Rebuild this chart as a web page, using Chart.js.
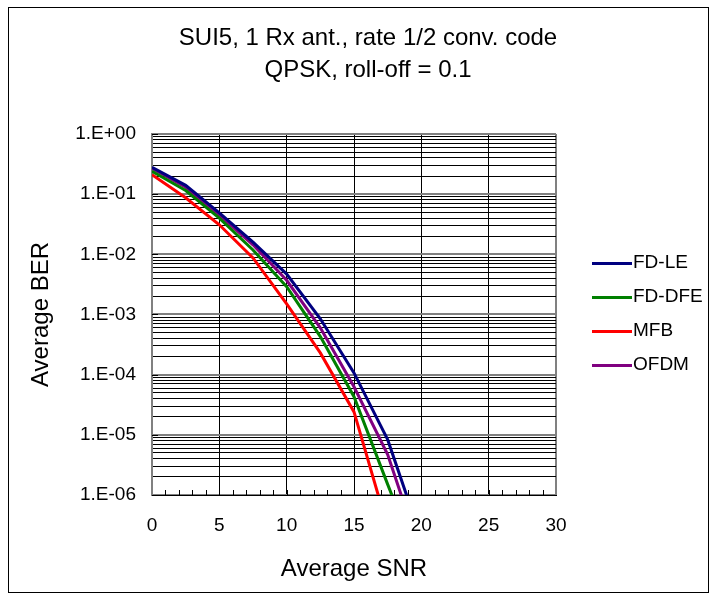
<!DOCTYPE html>
<html>
<head>
<meta charset="utf-8">
<title>SUI5 BER</title>
<script src="https://cdn.jsdelivr.net/npm/chart.js@4/dist/chart.umd.min.js"></script>
<style>
    html, body { margin: 0; padding: 0; background: #fff; }
    #wrap { width: 716px; height: 601px; }
</style>
</head>
<body>
<div id="wrap"><canvas id="ber-chart" width="716" height="601"></canvas></div>
<script>
// values
const snr = [0, 2.5, 5, 7.5, 10, 12.5, 15, 17.5, 20];
const berFdLe = [0.28, 0.14, 0.049, 0.016, 0.0047, 8.5e-4, 1.07e-4, 8.3e-6, 1.9e-7];
const berFdDfe = [0.24, 0.115, 0.040, 0.0118, 0.0029, 4.3e-4, 4.3e-5, 1.5e-6, 5.6e-8];
const berMfb = [0.21, 0.087, 0.031, 0.0087, 0.0015, 2.3e-4, 2.4e-5, 2.9e-7];
const berOfdm = [0.27, 0.13, 0.045, 0.0144, 0.0037, 6.0e-4, 6.3e-5, 4.7e-6, 1.0e-7];

const seriesNames = ['FD-LE', 'FD-DFE', 'MFB', 'OFDM'];
const seriesColors = ['#000080', '#008000', '#ff0000', '#800080'];

const titleLines = ['SUI5, 1 Rx ant., rate 1/2 conv. code', 'QPSK, roll-off = 0.1'];
const yDecades = [-6, -5, -4, -3, -2, -1, 0];
const yMultipliers = [1, 2, 3, 4, 5, 6, 7, 8, 9];
const xTickStep = 5;

const yTickValues = yDecades
    .flatMap(e => yMultipliers.map(m => m * Math.pow(10, e)))
    .filter(v => v <= 1 + 1e-12);

function isDecade(v) {
    const l = Math.log10(v);
    return Math.abs(l - Math.round(l)) < 1e-6;
}

function decadeLabel(v) {
    if (!isDecade(v)) return '';
    const e = Math.round(Math.log10(v));
    return '1.E' + (e < 0 ? '-' : '+') + String(Math.abs(e)).padStart(2, '0');
}

function toPoints(values) {
    return values.map((b, i) => ({ x: snr[i], y: b }));
}

const FONT = "'Liberation Sans', Arial, sans-serif";
Chart.defaults.font.family = FONT;
Chart.defaults.color = '#000';

// outer frame around the whole chart
const framePlugin = {
    id: 'frame',
    beforeDraw(chart) {
        const { ctx, width, height } = chart;
        ctx.save();
        ctx.strokeStyle = '#000';
        ctx.lineWidth = 1;
        ctx.strokeRect(8.5, 7.5, width - 16, height - 16);
        ctx.restore();
    }
};

// excel style inside tick marks
const innerTicksPlugin = {
    id: 'innerTicks',
    beforeDatasetsDraw(chart) {
        const { ctx, chartArea, scales: { x, y } } = chart;
        ctx.save();
        ctx.strokeStyle = '#000';
        ctx.lineWidth = 1;
        ctx.beginPath();
        for (let v = x.min + 1; v < x.max; v++) {
            const px = Math.round(x.getPixelForValue(v)) + 0.5;
            ctx.moveTo(px, chartArea.bottom);
            ctx.lineTo(px, chartArea.bottom - 5);
        }
        yDecades.forEach(e => {
            const py = Math.round(y.getPixelForValue(Math.pow(10, e))) + 0.5;
            ctx.moveTo(chartArea.left, py);
            ctx.lineTo(chartArea.left + 6, py);
        });
        ctx.stroke();
        ctx.restore();
    }
};

// legend at the right: line then label, no gap (like the excel original)
const sideLegendPlugin = {
    id: 'sideLegend',
    afterDraw(chart) {
        const { ctx, chartArea } = chart;
        const x0 = chartArea.right + 36;
        const lineLen = 40;
        const step = 34;
        const midY = (chartArea.top + chartArea.bottom) / 2;
        const n = chart.data.datasets.length;
        ctx.save();
        ctx.font = '19px ' + FONT;
        ctx.textBaseline = 'middle';
        ctx.textAlign = 'left';
        chart.data.datasets.forEach((ds, i) => {
            const yy = Math.round(midY + (i - (n - 1) / 2) * step);
            ctx.strokeStyle = ds.borderColor;
            ctx.lineWidth = 3;
            ctx.beginPath();
            ctx.moveTo(x0, yy + 0.5);
            ctx.lineTo(x0 + lineLen, yy + 0.5);
            ctx.stroke();
            ctx.fillStyle = '#000';
            ctx.fillText(ds.label, x0 + lineLen + 1, yy);
        });
        ctx.restore();
    }
};

const berSeries = [berFdLe, berFdDfe, berMfb, berOfdm];

new Chart(document.getElementById('ber-chart').getContext('2d'), {
    type: 'line',
    data: {
        datasets: berSeries.map((vals, i) => ({
            label: seriesNames[i],
            data: toPoints(vals),
            borderColor: seriesColors[i],
            backgroundColor: seriesColors[i],
            borderWidth: 3,
            pointRadius: 0,
            tension: 0,
            fill: false
        }))
    },
    options: {
        responsive: false,
        animation: false,
        // negative right padding so the full width title sits a bit right of the plot centre
        layout: { padding: { left: 0, right: -20, top: 0, bottom: 0 } },
        plugins: {
            title: {
                display: true,
                fullSize: true,
                text: titleLines,
                font: { size: 24, weight: 'normal', lineHeight: 1.333 },
                padding: { top: 22, bottom: 48 }
            },
            legend: { display: false },
            tooltip: { enabled: false }
        },
        scales: {
            x: {
                type: 'linear',
                min: 0,
                max: 30,
                ticks: { stepSize: xTickStep, padding: 19, font: { size: 19 } },
                grid: {
                    drawTicks: false,
                    color: c => (c.tick && c.tick.value === 30 ? '#808080' : '#000'),
                    lineWidth: c => (c.tick && c.tick.value === 30 ? 2 : 1)
                },
                border: { color: '#000', width: 1 },
                title: {
                    display: true,
                    text: 'Average SNR',
                    font: { size: 24 },
                    padding: { top: 0, bottom: 17 }
                },
                afterFit: s => { s.height = 106; }
            },
            y: {
                type: 'logarithmic',
                min: 1e-6,
                max: 1,
                afterBuildTicks: s => { s.ticks = yTickValues.map(v => ({ value: v })); },
                ticks: {
                    autoSkip: false,
                    padding: 16,
                    font: { size: 19 },
                    callback: v => decadeLabel(v)
                },
                grid: {
                    drawTicks: false,
                    color: c => (c.tick && isDecade(c.tick.value) ? '#808080' : '#000'),
                    lineWidth: c => (c.tick && isDecade(c.tick.value) ? 2 : 1)
                },
                border: { color: '#808080', width: 2 },
                title: {
                    display: true,
                    text: 'Average BER',
                    font: { size: 24 },
                    padding: { top: 27, bottom: 0 }
                },
                afterFit: s => { s.width = 152; }
            },
            // empty space on the right for the legend
            y2: {
                type: 'linear',
                position: 'right',
                display: true,
                grid: { display: false, drawTicks: false },
                ticks: { display: false },
                border: { display: false },
                afterFit: s => { s.width = 180; }
            }
        }
    },
    plugins: [framePlugin, innerTicksPlugin, sideLegendPlugin]
});
</script>
</body>
</html>
